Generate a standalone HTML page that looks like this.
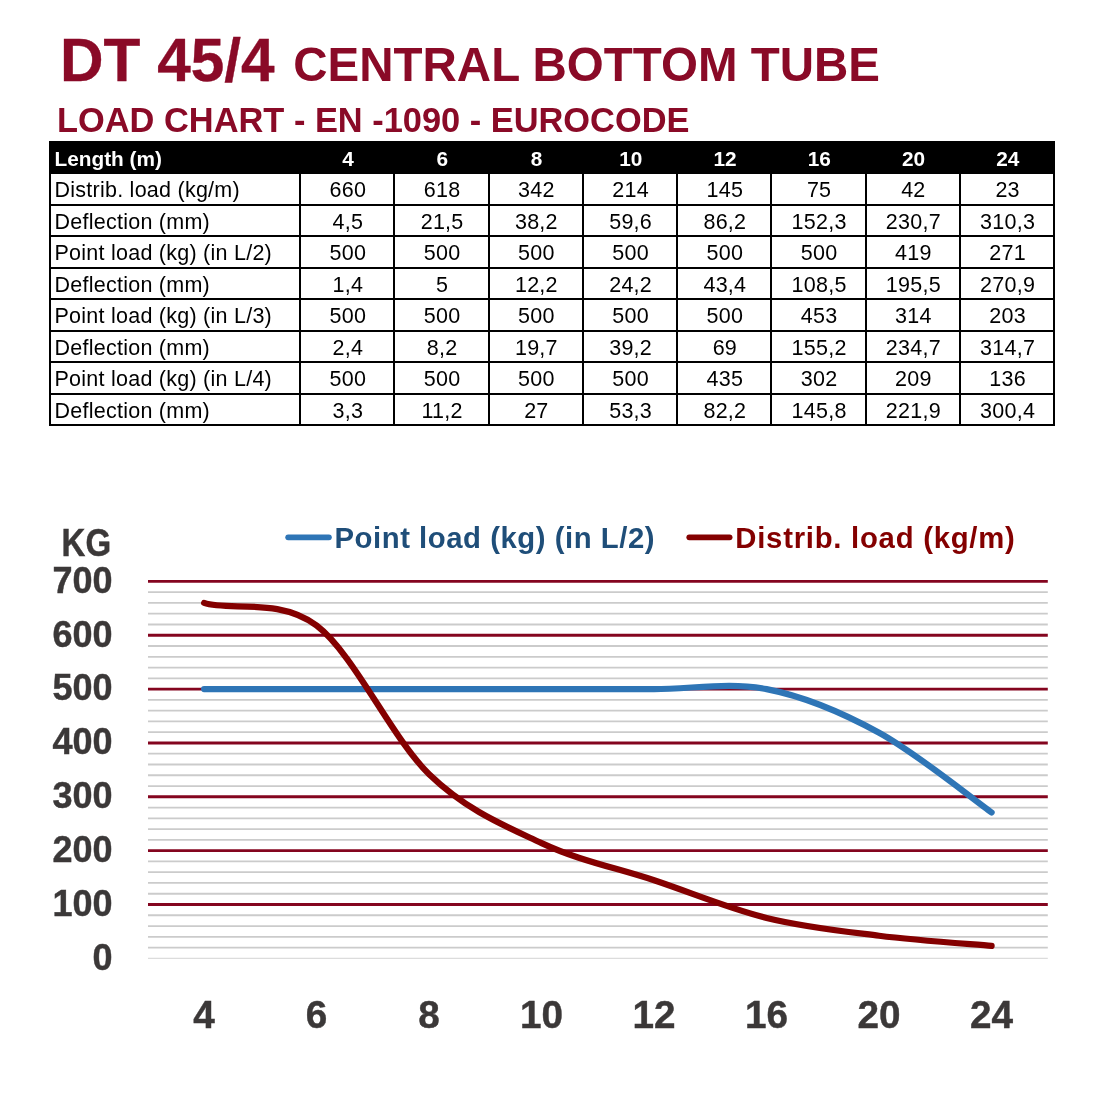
<!DOCTYPE html>
<html lang="en">
<head>
<meta charset="utf-8">
<title>DT 45/4 Central Bottom Tube - Load Chart</title>
<style>
html,body{margin:0;padding:0;background:#fff;}
body{width:1100px;height:1100px;position:relative;overflow:hidden;font-family:"Liberation Sans",sans-serif;}
h1{position:absolute;left:60px;top:30px;margin:0;font-weight:bold;color:#8a0a27;font-size:47.5px;line-height:60px;white-space:nowrap;letter-spacing:0;}
h1 b{font-size:60.3px;margin-right:2px;-webkit-text-stroke:0.35px #8a0a27;}
h2{position:absolute;left:57px;top:101.4px;margin:0;font-weight:bold;color:#8a0a27;font-size:34.4px;line-height:38px;white-space:nowrap;}
table.lt{position:absolute;left:49px;top:141px;width:1006px;border-collapse:collapse;table-layout:fixed;font-size:21.5px;letter-spacing:0.25px;color:#000;}
table.lt th,table.lt td{height:26.5px;padding:3px 0 0 0;border:2px solid #000;text-align:center;font-weight:normal;line-height:26.5px;white-space:nowrap;overflow:hidden;}
table.lt th{background:#000;color:#fff;font-weight:bold;height:27px;line-height:27px;padding-top:2px;padding-left:2px;font-size:20.8px;letter-spacing:0;}
table.lt .l{text-align:left;padding-left:3.5px;}
table.lt td{padding-left:1.5px;}
svg.chart{position:absolute;left:0;top:0;}
.ax{font-family:"Liberation Sans",sans-serif;font-weight:bold;font-size:36px;fill:#3b3838;stroke:#3b3838;stroke-width:0.45px;}
.kg{font-family:"Liberation Sans",sans-serif;font-weight:bold;font-size:38.2px;fill:#3b3838;stroke:#3b3838;stroke-width:0.45px;}
.axx{font-family:"Liberation Sans",sans-serif;font-weight:bold;font-size:38.7px;fill:#3b3838;stroke:#3b3838;stroke-width:0.45px;}
.lg{font-family:"Liberation Sans",sans-serif;font-weight:bold;font-size:29.3px;}
</style>
</head>
<body>
<h1><b>DT 45/4 </b>CENTRAL BOTTOM TUBE</h1>
<h2>LOAD CHART - EN -1090 - EUROCODE</h2>
<table class="lt"><colgroup><col style="width:250px"><col style="width:94.25px"><col style="width:94.25px"><col style="width:94.25px"><col style="width:94.25px"><col style="width:94.25px"><col style="width:94.25px"><col style="width:94.25px"><col style="width:94.25px"></colgroup>
<thead><tr><th class="l">Length (m)</th><th>4</th><th>6</th><th>8</th><th>10</th><th>12</th><th>16</th><th>20</th><th>24</th></tr></thead>
<tbody>
<tr><td class="l">Distrib. load (kg/m)</td><td>660</td><td>618</td><td>342</td><td>214</td><td>145</td><td>75</td><td>42</td><td>23</td></tr>
<tr><td class="l">Deflection (mm)</td><td>4,5</td><td>21,5</td><td>38,2</td><td>59,6</td><td>86,2</td><td>152,3</td><td>230,7</td><td>310,3</td></tr>
<tr><td class="l">Point load (kg) (in L/2)</td><td>500</td><td>500</td><td>500</td><td>500</td><td>500</td><td>500</td><td>419</td><td>271</td></tr>
<tr><td class="l">Deflection (mm)</td><td>1,4</td><td>5</td><td>12,2</td><td>24,2</td><td>43,4</td><td>108,5</td><td>195,5</td><td>270,9</td></tr>
<tr><td class="l">Point load (kg) (in L/3)</td><td>500</td><td>500</td><td>500</td><td>500</td><td>500</td><td>453</td><td>314</td><td>203</td></tr>
<tr><td class="l">Deflection (mm)</td><td>2,4</td><td>8,2</td><td>19,7</td><td>39,2</td><td>69</td><td>155,2</td><td>234,7</td><td>314,7</td></tr>
<tr><td class="l">Point load (kg) (in L/4)</td><td>500</td><td>500</td><td>500</td><td>500</td><td>435</td><td>302</td><td>209</td><td>136</td></tr>
<tr><td class="l">Deflection (mm)</td><td>3,3</td><td>11,2</td><td>27</td><td>53,3</td><td>82,2</td><td>145,8</td><td>221,9</td><td>300,4</td></tr>
</tbody></table>
<svg class="chart" width="1100" height="1100" viewBox="0 0 1100 1100">
<g shape-rendering="auto">
<line x1="148" x2="1047.8" y1="592.17" y2="592.17" stroke="#cbcbcb" stroke-width="1.8"/>
<line x1="148" x2="1047.8" y1="602.94" y2="602.94" stroke="#cbcbcb" stroke-width="1.8"/>
<line x1="148" x2="1047.8" y1="613.71" y2="613.71" stroke="#cbcbcb" stroke-width="1.8"/>
<line x1="148" x2="1047.8" y1="624.48" y2="624.48" stroke="#cbcbcb" stroke-width="1.8"/>
<line x1="148" x2="1047.8" y1="646.02" y2="646.02" stroke="#cbcbcb" stroke-width="1.8"/>
<line x1="148" x2="1047.8" y1="656.79" y2="656.79" stroke="#cbcbcb" stroke-width="1.8"/>
<line x1="148" x2="1047.8" y1="667.56" y2="667.56" stroke="#cbcbcb" stroke-width="1.8"/>
<line x1="148" x2="1047.8" y1="678.33" y2="678.33" stroke="#cbcbcb" stroke-width="1.8"/>
<line x1="148" x2="1047.8" y1="699.87" y2="699.87" stroke="#cbcbcb" stroke-width="1.8"/>
<line x1="148" x2="1047.8" y1="710.64" y2="710.64" stroke="#cbcbcb" stroke-width="1.8"/>
<line x1="148" x2="1047.8" y1="721.41" y2="721.41" stroke="#cbcbcb" stroke-width="1.8"/>
<line x1="148" x2="1047.8" y1="732.18" y2="732.18" stroke="#cbcbcb" stroke-width="1.8"/>
<line x1="148" x2="1047.8" y1="753.72" y2="753.72" stroke="#cbcbcb" stroke-width="1.8"/>
<line x1="148" x2="1047.8" y1="764.49" y2="764.49" stroke="#cbcbcb" stroke-width="1.8"/>
<line x1="148" x2="1047.8" y1="775.26" y2="775.26" stroke="#cbcbcb" stroke-width="1.8"/>
<line x1="148" x2="1047.8" y1="786.03" y2="786.03" stroke="#cbcbcb" stroke-width="1.8"/>
<line x1="148" x2="1047.8" y1="807.57" y2="807.57" stroke="#cbcbcb" stroke-width="1.8"/>
<line x1="148" x2="1047.8" y1="818.34" y2="818.34" stroke="#cbcbcb" stroke-width="1.8"/>
<line x1="148" x2="1047.8" y1="829.11" y2="829.11" stroke="#cbcbcb" stroke-width="1.8"/>
<line x1="148" x2="1047.8" y1="839.88" y2="839.88" stroke="#cbcbcb" stroke-width="1.8"/>
<line x1="148" x2="1047.8" y1="861.42" y2="861.42" stroke="#cbcbcb" stroke-width="1.8"/>
<line x1="148" x2="1047.8" y1="872.19" y2="872.19" stroke="#cbcbcb" stroke-width="1.8"/>
<line x1="148" x2="1047.8" y1="882.96" y2="882.96" stroke="#cbcbcb" stroke-width="1.8"/>
<line x1="148" x2="1047.8" y1="893.73" y2="893.73" stroke="#cbcbcb" stroke-width="1.8"/>
<line x1="148" x2="1047.8" y1="915.27" y2="915.27" stroke="#cbcbcb" stroke-width="1.8"/>
<line x1="148" x2="1047.8" y1="926.04" y2="926.04" stroke="#cbcbcb" stroke-width="1.8"/>
<line x1="148" x2="1047.8" y1="936.81" y2="936.81" stroke="#cbcbcb" stroke-width="1.8"/>
<line x1="148" x2="1047.8" y1="947.58" y2="947.58" stroke="#cbcbcb" stroke-width="1.8"/>
<line x1="148" x2="1047.8" y1="958.35" y2="958.35" stroke="#dcdcdc" stroke-width="1.2"/>
<line x1="148" x2="1047.8" y1="581.40" y2="581.40" stroke="#84051f" stroke-width="2.9"/>
<line x1="148" x2="1047.8" y1="635.25" y2="635.25" stroke="#84051f" stroke-width="2.9"/>
<line x1="148" x2="1047.8" y1="689.10" y2="689.10" stroke="#84051f" stroke-width="2.9"/>
<line x1="148" x2="1047.8" y1="742.95" y2="742.95" stroke="#84051f" stroke-width="2.9"/>
<line x1="148" x2="1047.8" y1="796.80" y2="796.80" stroke="#84051f" stroke-width="2.9"/>
<line x1="148" x2="1047.8" y1="850.65" y2="850.65" stroke="#84051f" stroke-width="2.9"/>
<line x1="148" x2="1047.8" y1="904.50" y2="904.50" stroke="#84051f" stroke-width="2.9"/>
</g>
<path d="M204.10,689.10 C222.85,689.10 279.10,689.10 316.60,689.10 C354.10,689.10 391.60,689.10 429.10,689.10 C466.60,689.10 504.10,689.10 541.60,689.10 C579.10,689.10 616.60,689.10 654.10,689.10 C691.60,689.10 729.10,681.83 766.60,689.10 C804.10,696.37 841.60,712.17 879.10,732.72 C916.60,753.27 972.85,799.13 991.60,812.42" fill="none" stroke="#2e75b6" stroke-width="6.2" stroke-linecap="round" stroke-linejoin="round"/>
<path d="M204.10,602.94 C228.00,611.50 279.10,597.02 316.60,625.56 C354.10,654.10 391.60,737.92 429.10,774.18 C466.60,810.44 504.10,825.43 541.60,843.11 C579.10,860.79 616.60,867.79 654.10,880.27 C691.60,892.74 729.10,908.72 766.60,917.96 C804.10,927.21 841.60,931.07 879.10,935.73 C916.60,940.40 972.85,944.26 991.60,945.96" fill="none" stroke="#840000" stroke-width="6.2" stroke-linecap="round" stroke-linejoin="round"/>
<text transform="translate(61.6,556) scale(0.865,1)" x="0" y="0" class="kg">KG</text>
<text x="112.6" y="592.7" text-anchor="end" class="ax">700</text>
<text x="112.6" y="646.5" text-anchor="end" class="ax">600</text>
<text x="112.6" y="700.4" text-anchor="end" class="ax">500</text>
<text x="112.6" y="754.2" text-anchor="end" class="ax">400</text>
<text x="112.6" y="808.1" text-anchor="end" class="ax">300</text>
<text x="112.6" y="861.9" text-anchor="end" class="ax">200</text>
<text x="112.6" y="915.8" text-anchor="end" class="ax">100</text>
<text x="112.6" y="969.6" text-anchor="end" class="ax">0</text>

<text x="204.1" y="1027.6" text-anchor="middle" class="axx">4</text>
<text x="316.6" y="1027.6" text-anchor="middle" class="axx">6</text>
<text x="429.1" y="1027.6" text-anchor="middle" class="axx">8</text>
<text x="541.6" y="1027.6" text-anchor="middle" class="axx">10</text>
<text x="654.1" y="1027.6" text-anchor="middle" class="axx">12</text>
<text x="766.6" y="1027.6" text-anchor="middle" class="axx">16</text>
<text x="879.1" y="1027.6" text-anchor="middle" class="axx">20</text>
<text x="991.6" y="1027.6" text-anchor="middle" class="axx">24</text>

<line x1="288.2" x2="328.9" y1="537.3" y2="537.3" stroke="#2e75b6" stroke-width="5.8" stroke-linecap="round"/>
<text x="334.5" y="547.5" class="lg" fill="#1f4e79" textLength="320" lengthAdjust="spacing">Point load (kg) (in L/2)</text>
<line x1="689.3" x2="729.6" y1="537.3" y2="537.3" stroke="#840000" stroke-width="5.8" stroke-linecap="round"/>
<text x="735.3" y="547.5" class="lg" fill="#840000" textLength="279.5" lengthAdjust="spacing">Distrib. load (kg/m)</text>
</svg>
</body>
</html>
